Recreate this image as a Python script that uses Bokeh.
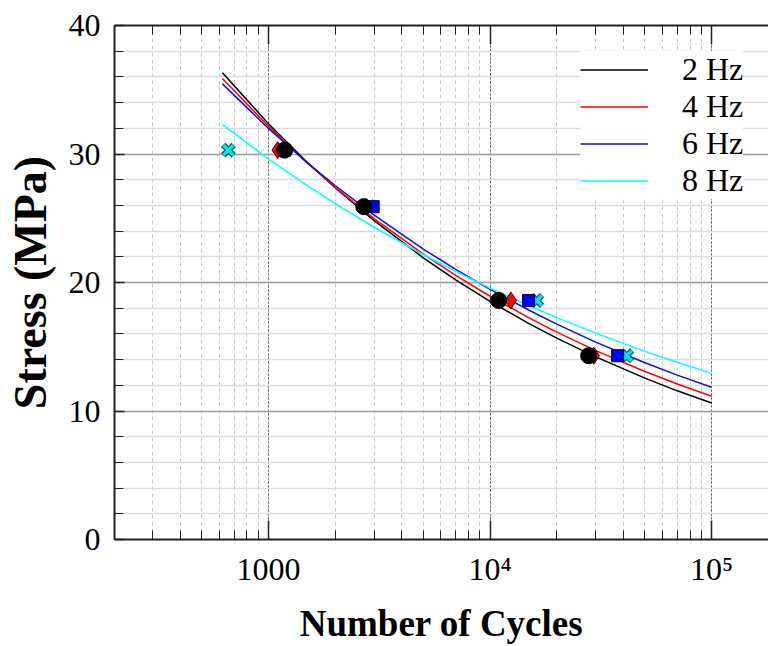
from bokeh.plotting import figure
from bokeh.models import (LogAxis, Range1d, Legend, LegendItem, FixedTicker,
                          CustomJSTickFormatter)
from bokeh.embed import file_html
from bokeh.resources import INLINE

# ---- data ----
cycles_fit = [620, 1000, 1500, 2000, 3000, 5000, 7000, 10000, 15000, 20000,
              30000, 50000, 70000, 100000]
stress_fit_2hz = [36.33, 32.36, 29.34, 27.37, 24.81, 21.92, 20.21, 18.53,
                  16.80, 15.67, 14.21, 12.56, 11.57, 10.62]
stress_fit_4hz = [35.88, 32.15, 29.29, 27.41, 24.97, 22.20, 20.55, 18.93,
                  17.25, 16.14, 14.70, 13.07, 12.10, 11.15]
stress_fit_6hz = [35.46, 31.99, 29.31, 27.55, 25.24, 22.60, 21.02, 19.47,
                  17.84, 16.76, 15.36, 13.76, 12.79, 11.85]
stress_fit_8hz = [32.28, 29.61, 27.53, 26.14, 24.30, 22.16, 20.86, 19.56,
                  18.19, 17.27, 16.06, 14.64, 13.79, 12.93]

stress_levels = [30.3, 25.9, 18.6, 14.3]
cycles_2hz = [1183, 2693, 10940, 27860]
cycles_4hz = [1101, 2750, 12420, 29400]
cycles_6hz = [1183, 2970, 14930, 37660]
cycles_8hz = [660, 2850, 16250, 41400]

legend_labels = ["2 Hz", "4 Hz", "6 Hz", "8 Hz"]
x_major = [1000, 10000, 100000]
x_major_labels = ["1000", "10\u2074", "10\u2075"]
y_major = [0, 10, 20, 30, 40]
y_major_labels = ["0", "10", "20", "30", "40"]

FONT = "Liberation Serif"

x_minor = [m * 10 ** e for e in (2, 3, 4, 5) for m in range(1, 10)]
xticker = FixedTicker(ticks=x_major, minor_ticks=x_minor)
yticker = FixedTicker(ticks=y_major, minor_ticks=list(range(0, 41, 2)))

p = figure(width=768, height=646, x_axis_type="log",
           x_range=Range1d(202, 180600), y_range=Range1d(0, 40),
           output_backend="svg", toolbar_location=None,
           min_border_left=114, min_border_right=0, min_border_top=25,
           min_border_bottom=106)
p.outline_line_color = None
p.background_fill_color = "white"

# axes
for ax in (p.xaxis[0], p.yaxis[0]):
    ax.axis_line_color = "#222222"
    ax.axis_line_width = 2
    ax.major_tick_line_color = "#222222"
    ax.minor_tick_line_color = "#222222"
    ax.major_tick_line_width = 1.5
    ax.minor_tick_line_width = 1
    ax.major_tick_out = 0
    ax.minor_tick_out = 0
    ax.major_label_text_font = FONT
    ax.major_label_text_font_size = "32px"
    ax.major_label_text_color = "black"
    ax.axis_label_text_font = FONT
    ax.axis_label_text_font_style = "bold"
    ax.axis_label_text_color = "black"

xa = p.xaxis[0]
xa.ticker = xticker
xa.major_tick_in = 19
xa.minor_tick_in = 9
xa.major_label_overrides = dict(zip(x_major, x_major_labels))
xa.major_label_standoff = 11
xa.axis_label = "Number of Cycles"
xa.axis_label_text_font_size = "37px"
xa.axis_label_standoff = 13

ya = p.yaxis[0]
ya.ticker = yticker
ya.major_tick_in = 10
ya.minor_tick_in = 9
ya.major_label_overrides = dict(zip(y_major, y_major_labels))
ya.major_label_standoff = 14
ya.axis_label = "Stress (MPa)"
ya.axis_label_text_font_size = "46px"
ya.axis_label_standoff = 10

top = LogAxis(ticker=xticker, formatter=CustomJSTickFormatter(code="return ''"),
              axis_line_color="#222222", axis_line_width=2,
              major_tick_line_color="#222222", minor_tick_line_color="#222222",
              major_tick_line_width=1.5, minor_tick_line_width=1,
              major_tick_in=19, minor_tick_in=9, major_tick_out=0, minor_tick_out=0,
              major_label_standoff=0)
p.add_layout(top, "above")

# grids
p.xgrid.ticker = xticker
p.xgrid.grid_line_color = "#555555"
p.xgrid.grid_line_dash = "2 2"
p.xgrid.grid_line_width = 1
p.xgrid.minor_grid_line_color = "#c8c8c8"
p.xgrid.minor_grid_line_dash = "4 3"
p.xgrid.minor_grid_line_width = 1

p.ygrid.ticker = yticker
p.ygrid.grid_line_color = "#a0a0a0"
p.ygrid.grid_line_width = 1.5
p.ygrid.minor_grid_line_color = "#dcdcdc"
p.ygrid.minor_grid_line_width = 1.5

# fitted curves
l2 = p.line(cycles_fit, stress_fit_2hz, line_color="black", line_width=1.5)
l4 = p.line(cycles_fit, stress_fit_4hz, line_color="#ff0000", line_width=1.5)
l6 = p.line(cycles_fit, stress_fit_6hz, line_color="#1010d0", line_width=1.5)
l8 = p.line(cycles_fit, stress_fit_8hz, line_color="#00ffff", line_width=1.5)

# data points
p.scatter(cycles_8hz, stress_levels, marker="x", size=15, line_color="#0a5a5a",
          line_width=6)
p.scatter(cycles_8hz, stress_levels, marker="x", size=14, line_color="#00e5e5",
          line_width=3.5)
p.scatter(cycles_6hz, stress_levels, marker="square", size=12, fill_color="#0000ff",
          line_color="#000040", line_width=1)
p.scatter(cycles_4hz, stress_levels, marker="diamond", size=17, fill_color="#ff0000",
          line_color="#400000", line_width=1)
p.scatter(cycles_2hz, stress_levels, marker="circle", size=16, fill_color="black",
          line_color="black", line_width=1)

legend = Legend(items=[LegendItem(label=lab, renderers=[r])
                       for lab, r in zip(legend_labels, [l2, l4, l6, l8])],
                location=(466, 340), orientation="vertical",
                background_fill_color="white", background_fill_alpha=1.0,
                border_line_color=None, padding=0, margin=0, spacing=0,
                glyph_width=68, glyph_height=35, label_height=35,
                label_standoff=34, label_text_font=FONT,
                label_text_font_size="32px", label_text_color="black")
p.add_layout(legend)

open("out.html", "w").write(file_html(p, INLINE))
